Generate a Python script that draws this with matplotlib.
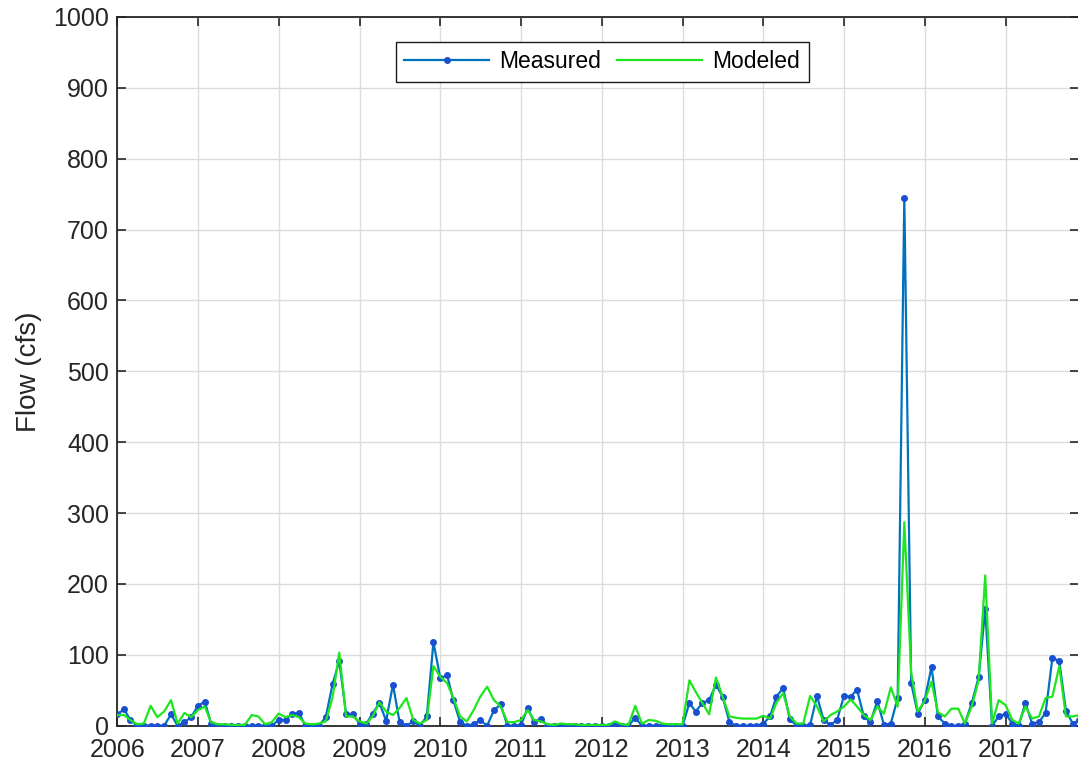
import matplotlib
matplotlib.use("Agg")
import matplotlib.pyplot as plt
import matplotlib.dates as mdates
import pandas as pd

# monthly values, Jan 2006 .. Dec 2017 (cfs)
months = pd.date_range("2006-01-01", "2017-12-01", freq="MS")

measured = [
    16, 23, 8, 0, 0, 0, 0, 0, 16, 0, 5, 12,          # 2006
    28, 34, 3, 0, 0, 0, 0, 0, 0, 0, 0, 0,            # 2007
    8, 8, 17, 18, 0, 0, 0, 12, 59, 91, 16, 16,       # 2008
    3, 3, 17, 32, 7, 58, 5, 0, 6, 0, 13, 118,        # 2009
    67, 71, 36, 5, 0, 2, 8, 0, 22, 30, 0, 0,         # 2010
    1, 25, 5, 10, 0, 0, 0, 0, 0, 0, 0, 0,            # 2011
    0, 0, 3, 0, 0, 11, 0, 0, 0, 0, 0, 0,             # 2012
    0, 32, 20, 32, 36, 58, 41, 5, 0, 0, 0, 0,        # 2013
    3, 13, 41, 53, 9, 0, 0, 1, 42, 8, 1, 8,          # 2014
    42, 41, 51, 13, 5, 35, 1, 3, 39, 745, 60, 17,    # 2015
    36, 83, 13, 3, 0, 0, 3, 32, 68, 164, 0, 13,      # 2016
    17, 3, 0, 32, 3, 5, 18, 96, 91, 21, 3, 8,        # 2017
]

modeled = [
    15, 15, 8, 2, 3, 28, 12, 20, 36, 3, 18, 12,      # 2006
    22, 27, 5, 2, 2, 1, 1, 1, 15, 13, 2, 5,          # 2007
    17, 12, 15, 12, 3, 2, 3, 6, 40, 103, 13, 13,     # 2008
    6, 3, 13, 33, 20, 15, 25, 39, 8, 3, 8, 84,       # 2009
    69, 60, 39, 13, 6, 22, 41, 55, 36, 27, 5, 5,     # 2010
    8, 22, 8, 6, 2, 1, 3, 2, 2, 1, 1, 1,             # 2011
    1, 1, 6, 2, 1, 28, 3, 8, 7, 3, 2, 2,             # 2012
    2, 64, 48, 32, 16, 68, 41, 13, 11, 10, 10, 10,   # 2013
    14, 10, 32, 46, 13, 3, 3, 42, 27, 6, 15, 20,     # 2014
    27, 37, 27, 15, 8, 27, 17, 54, 27, 287, 75, 20,  # 2015
    35, 62, 19, 13, 24, 24, 3, 27, 64, 212, 3, 36,   # 2016
    29, 8, 3, 27, 10, 13, 39, 41, 84, 13, 13, 15,    # 2017
]

y_ticks = list(range(0, 1001, 100))

plt.rcParams["font.family"] = ["Liberation Sans", "DejaVu Sans"]
axis_col = "#262626"

fig = plt.figure(figsize=(10.78, 7.72), dpi=100)
ax = fig.add_axes([0.1088, 0.06, 0.8925, 0.918])

ax.plot(months, measured, color="#0072BD", lw=1.6, marker="o", ms=4,
        mfc="#1a4fd0", mec="#1a4fd0", label="Measured", zorder=3)
ax.plot(months, modeled, color="#1ee61e", lw=1.6, label="Modeled", zorder=4)

ax.set_xlim(months[0], months[-1])
ax.set_ylim(0, 1000)
ax.set_yticks(y_ticks)
ax.xaxis.set_major_locator(mdates.YearLocator())
ax.xaxis.set_major_formatter(mdates.DateFormatter("%Y"))

ax.grid(True, color="#dcdcdc", lw=1)
ax.set_axisbelow(True)
for s in ax.spines.values():
    s.set_color(axis_col)
    s.set_linewidth(1.3)
ax.tick_params(direction="in", length=6.5, width=1.2, colors=axis_col,
               labelsize=18, top=True, right=True)
ax.tick_params(axis="x", pad=9)
ax.tick_params(axis="y", pad=6)
ax.tick_params(labelcolor="#262626")
ax.set_ylabel("Flow (cfs)", fontsize=20, color="#262626", labelpad=8)

leg = ax.legend(loc="upper center", bbox_to_anchor=(0.504, 0.965), ncol=2,
                fontsize=16.5, frameon=True, fancybox=False, handlelength=3.7,
                handletextpad=0.45, columnspacing=0.7, borderpad=0.38,
                borderaxespad=0)
leg.get_frame().set_edgecolor("#1a1a1a")
leg.get_frame().set_linewidth(1.0)
leg.get_frame().set_alpha(1)

fig.savefig("out.png", dpi=100)
